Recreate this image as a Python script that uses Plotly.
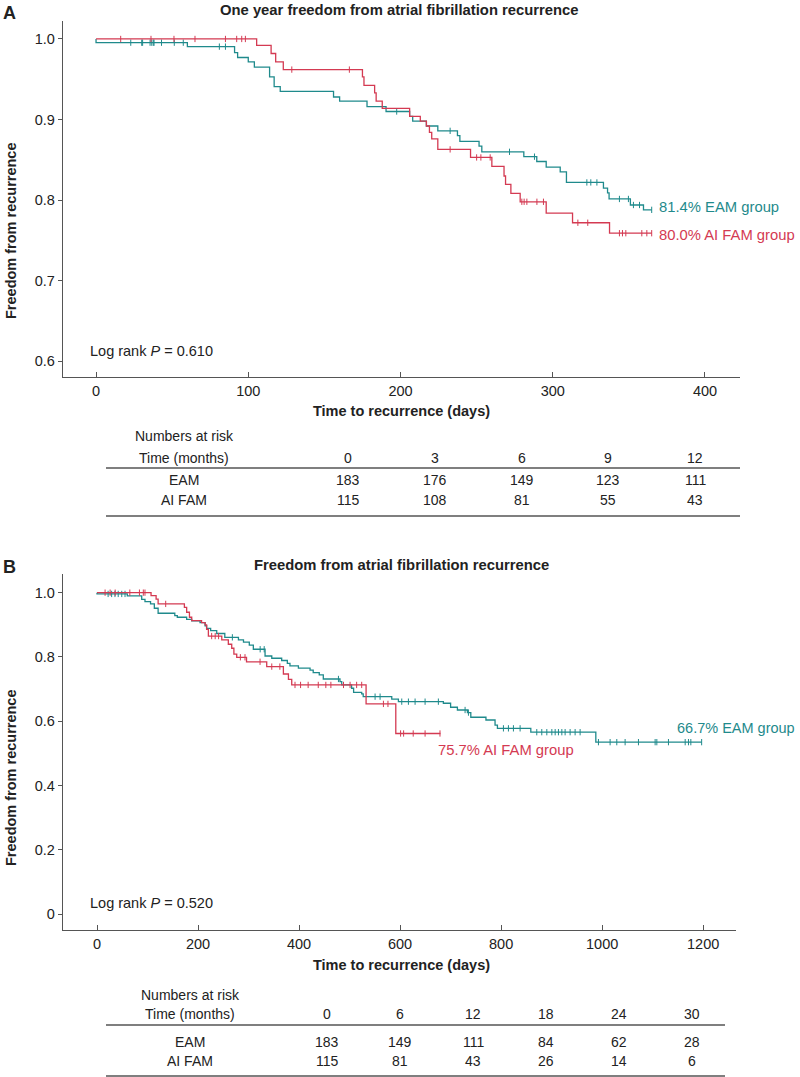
import plotly.graph_objects as go

W, H = 800, 1077
TEAL = "#1f8a8c"
RED = "#d43a52"
AX = "#555555"
FONT = "Liberation Sans, Arial, sans-serif"

# ---------------- Panel A data (one year) ----------------
A_eam_t = [0, 0, 60, 91, 93, 100, 104, 114, 117, 121, 156, 160, 178, 190.5, 206, 208, 217, 224.5,
           237.4, 239, 251.6, 253.4, 281, 289.5, 295.7, 304.9, 309, 333.3, 336, 337, 351, 359.6]
A_eam_s = [1.0, 0.9954, 0.9905, 0.983, 0.977, 0.9715, 0.965, 0.953, 0.941, 0.935, 0.928, 0.923, 0.916,
           0.910, 0.904, 0.898, 0.892, 0.886, 0.880, 0.873, 0.867, 0.860, 0.854, 0.848, 0.841, 0.835,
           0.822, 0.815, 0.809, 0.8015, 0.794, 0.788]
A_eam_end = 365
A_eam_cens = [22.8, 30, 30.6, 35.5, 36.6, 37.6, 38.1, 43, 51.4, 57.3, 81, 85, 197.5, 232.6, 271.6, 288,
              322.4, 325, 329, 343.8, 349.7, 353, 357, 365]

A_ai_t = [0, 105.5, 115, 118, 123, 175, 176, 183, 184, 188, 206, 213, 217, 219, 220.5, 224.5, 246, 260,
          268, 269, 272.5, 278.6, 295.7, 313, 337.3]
A_ai_s = [1.0, 0.992, 0.982, 0.9715, 0.962, 0.953, 0.9425, 0.933, 0.923, 0.914, 0.904, 0.898, 0.892,
          0.884, 0.876, 0.863, 0.853, 0.842, 0.830, 0.8195, 0.8085, 0.798, 0.784, 0.772, 0.759]
A_ai_end = 365
A_ai_cens = [16.2, 36.1, 51.2, 65, 85, 92.4, 95.7, 98.1, 128.6, 166.4, 232.6, 250, 252.8, 258.9, 279.7,
             281.2, 283, 289.6, 293.9, 316.5, 323, 343.8, 345.8, 348, 358.5, 361.8, 365]

A_months = ["0", "3", "6", "9", "12"]
A_risk_eam = [183, 176, 149, 123, 111]
A_risk_ai = [115, 108, 81, 55, 43]

# ---------------- Panel B data (full follow-up) ----------------
B_eam_t = [0, 0, 60, 88.5, 95, 106, 113.5, 121, 154, 159, 177.5, 187.5, 204, 214, 217, 225, 237, 253, 280,
           290, 301.5, 309.5, 332.7, 346, 365.6, 376.8, 382, 398.7, 421.8, 428, 440, 448, 481, 484.5, 504,
           508, 524, 527, 583.5, 596.7, 685.7, 700, 713.5, 733.3, 740, 770, 788, 792.7, 858.8, 987.5]
B_eam_s = [1.0, 0.996, 0.9897, 0.979, 0.972, 0.965, 0.9515, 0.936, 0.9285, 0.9235, 0.917, 0.912, 0.9067,
           0.897, 0.889, 0.882, 0.873, 0.861, 0.853, 0.846, 0.837, 0.824, 0.803, 0.796, 0.789, 0.780, 0.772,
           0.765, 0.759, 0.751, 0.744, 0.7315, 0.723, 0.713, 0.7027, 0.690, 0.685, 0.6765, 0.669, 0.661,
           0.656, 0.6435, 0.635, 0.627, 0.6125, 0.604, 0.588, 0.578, 0.566, 0.535]
B_eam_end = 1197
B_eam_cens = [22, 29, 35.6, 42, 49, 55.5, 268, 323, 331, 478, 550.5, 560.4, 603.3, 616.5, 629.7, 649.5,
              675.8, 728.7, 735.3, 804.6, 814.5, 824.4, 837.6, 870.6, 880.5, 890.5, 900.4, 907, 913.5,
              920.2, 926.7, 936.6, 946.5, 956.4, 992.7, 1015.8, 1029, 1045.5, 1071.9, 1104.9, 1108.3,
              1131.3, 1164.4, 1170.9, 1175.6, 1197]

B_ai_t = [0, 107, 117, 121, 173, 177.5, 183, 187.5, 207, 214, 217, 220.5, 247, 260, 266.7, 271, 276.6, 296,
          336, 369, 379, 385.5, 532.7, 591.5]
B_ai_s = [1.0, 0.9907, 0.980, 0.965, 0.9545, 0.939, 0.9235, 0.913, 0.9067, 0.8995, 0.886, 0.865, 0.853,
          0.8395, 0.827, 0.809, 0.799, 0.785, 0.770, 0.747, 0.7305, 0.713, 0.654, 0.562]
B_ai_end = 680
B_ai_cens = [16, 26, 36, 65, 84, 91.7, 95, 136, 227, 234, 240.7, 283.8, 293, 322.8, 346, 362, 392, 403,
             418, 438, 453, 463, 488, 501, 514, 524, 567, 576, 601, 607, 626, 649.5, 679]

B_months = ["0", "6", "12", "18", "24", "30"]
B_risk_eam = [183, 149, 111, 84, 62, 28]
B_risk_ai = [115, 81, 43, 26, 14, 6]


def px(x):
    return x / W


def py(y):
    return 1 - y / H


def surv_at(t_list, s_list, c):
    val = s_list[0]
    for t, s in zip(t_list, s_list):
        if t <= c:
            val = s
    return val


fig = go.Figure()


def add_curve(t, s, end, cens, color, xa, ya):
    fig.add_trace(go.Scatter(x=list(t) + [end], y=list(s) + [s[-1]], mode="lines",
                             line=dict(shape="hv", color=color, width=1.3),
                             xaxis=xa, yaxis=ya, showlegend=False, hoverinfo="skip"))
    fig.add_trace(go.Scatter(x=cens, y=[surv_at(t, s, c) for c in cens], mode="markers",
                             marker=dict(symbol="line-ns", size=4.5, line=dict(color=color, width=1)),
                             xaxis=xa, yaxis=ya, showlegend=False, hoverinfo="skip"))


add_curve(A_eam_t, A_eam_s, A_eam_end, A_eam_cens, TEAL, "x", "y")
add_curve(A_ai_t, A_ai_s, A_ai_end, A_ai_cens, RED, "x", "y")
add_curve(B_eam_t, B_eam_s, B_eam_end, B_eam_cens, TEAL, "x2", "y2")
add_curve(B_ai_t, B_ai_s, B_ai_end, B_ai_cens, RED, "x2", "y2")

axis_common = dict(showline=True, linecolor=AX, linewidth=1.3, showgrid=False, zeroline=False,
                   tickcolor=AX, tickfont=dict(family=FONT, size=14.5, color="#222"))

fig.update_layout(
    width=W, height=H, margin=dict(l=0, r=0, t=0, b=0),
    paper_bgcolor="white", plot_bgcolor="white",
    font=dict(family=FONT, color="#222"),
    xaxis=dict(domain=[px(63), px(740)], range=[-21.7, 423], tickvals=[0, 100, 200, 300, 400],
               ticks="inside", ticklen=5, anchor="y", **axis_common),
    yaxis=dict(domain=[py(377), py(21)], range=[0.5806, 1.0223], tickvals=[0.6, 0.7, 0.8, 0.9, 1.0],
               ticktext=["0.6", "0.7", "0.8", "0.9", "1.0"], ticks="outside", ticklen=4, anchor="x",
               **axis_common),
    xaxis2=dict(domain=[px(63), px(736)], range=[-67.3, 1265], tickvals=[0, 200, 400, 600, 800, 1000, 1200],
                ticks="inside", ticklen=5, anchor="y2", **axis_common),
    yaxis2=dict(domain=[py(930), py(574)], range=[-0.0492, 1.058], tickvals=[0, 0.2, 0.4, 0.6, 0.8, 1.0],
                ticktext=["0", "0.2", "0.4", "0.6", "0.8", "1.0"], ticks="outside", ticklen=4, anchor="x2",
                **axis_common),
)

ann = []
shapes = []


def text(x, y, s, size=14, bold=False, color="#222", xanchor="center", angle=0):
    if bold:
        s = "<b>" + s + "</b>"
    ann.append(dict(x=px(x), y=py(y), xref="paper", yref="paper", text=s, showarrow=False,
                    xanchor=xanchor, yanchor="middle", textangle=angle,
                    font=dict(family=FONT, size=size, color=color)))


# Panel A texts
text(9, 13, "A", size=18, bold=True)
text(399, 10, "One year freedom from atrial fibrillation recurrence", size=14.8, bold=True)
text(11, 231, "Freedom from recurrence", size=14.5, bold=True, angle=-90)
text(401, 411, "Time to recurrence (days)", size=14.5, bold=True)
text(88, 351, "Log rank <i>P</i> = 0.610", size=14.5, xanchor="left")
text(657, 207, "81.4% EAM group", size=14.8, color=TEAL, xanchor="left")
text(657, 235, "80.0% AI FAM group", size=14.8, color=RED, xanchor="left")

# Panel A table
text(184, 436, "Numbers at risk")
text(184, 458, "Time (months)")
text(184, 480, "EAM")
text(184, 500, "AI FAM")
for i, m in enumerate(A_months):
    cx = 348 + i * 86.8
    text(cx, 458, m)
    text(cx, 480, str(A_risk_eam[i]))
    text(cx, 500, str(A_risk_ai[i]))
for yy in (468, 516):
    shapes.append(dict(type="line", xref="paper", yref="paper", x0=px(106), x1=px(740), y0=py(yy), y1=py(yy),
                       line=dict(color=AX, width=1.3)))

# Panel B texts
text(9, 567, "B", size=18, bold=True)
text(401, 565, "Freedom from atrial fibrillation recurrence", size=14.8, bold=True)
text(11, 778, "Freedom from recurrence", size=14.5, bold=True, angle=-90)
text(401, 965, "Time to recurrence (days)", size=14.5, bold=True)
text(88, 903, "Log rank <i>P</i> = 0.520", size=14.5, xanchor="left")
text(797, 728, "66.7% EAM group", size=14.5, color=TEAL, xanchor="right")
text(436, 750, "75.7% AI FAM group", size=14.8, color=RED, xanchor="left")

# Panel B table
text(190, 995, "Numbers at risk")
text(190, 1014, "Time (months)")
text(190, 1042, "EAM")
text(190, 1061, "AI FAM")
for i, m in enumerate(B_months):
    cx = 327 + i * 73
    text(cx, 1014, m)
    text(cx, 1042, str(B_risk_eam[i]))
    text(cx, 1061, str(B_risk_ai[i]))
for yy in (1025, 1076):
    shapes.append(dict(type="line", xref="paper", yref="paper", x0=px(106), x1=px(725), y0=py(yy), y1=py(yy),
                       line=dict(color=AX, width=1.3)))

fig.update_layout(annotations=ann, shapes=shapes)
fig.write_html("out.html")
